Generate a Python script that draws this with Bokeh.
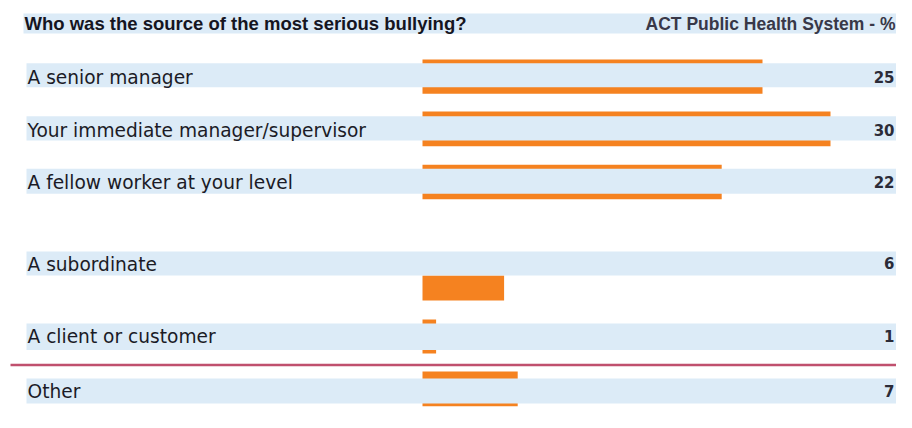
from bokeh.plotting import figure
from bokeh.models import Range1d
from bokeh.core.properties import value
from bokeh.embed import file_html
from bokeh.resources import INLINE

# ---- data ----
categories = ["A senior manager", "Your immediate manager/supervisor",
              "A fellow worker at your level", "A subordinate",
              "A client or customer", "Other"]
values = [25, 30, 22, 6, 1, 7]
value_labels = ["25", "30", "22", "6", "1", "7"]
title_left = "Who was the source of the most serious bullying?"
title_right = "ACT Public Health System - %"

# ---- layout (pixel geometry) ----
X0 = 422.0          # pixel of value 0
PPU = 13.6          # pixels per percentage point
W, H = 896, 412
TXT_SHIFT = -6.0    # baseline correction

def px(x):
    return (x - X0) / PPU

band_top = [62.7, 115.7, 168.3, 251, 323, 378]
band_bot = [86.7, 140.0, 193.3, 275, 349.5, 403]
bar_top = [59.0, 111.0, 164.3, 275, 319, 371]
bar_bot = [93.3, 145.7, 198.7, 300, 353, 405.7]
label_base = [83.3, 136.0, 188.3, 269.5, 342.0, 397.0]

ORANGE = "#f58220"
BAND = "#dcebf7"
TEXT = "#1b1b26"

p = figure(width=W, height=H, output_backend="svg", toolbar_location=None,
           x_range=Range1d(px(0), px(W)), y_range=Range1d(H, 0),
           x_axis_location=None, y_axis_location=None, min_border=0)
p.grid.visible = False
p.outline_line_color = None
p.background_fill_color = "white"

# bars (drawn first; the bands sit on top of them)
p.quad(left=[0] * len(values), right=values, top=bar_top, bottom=bar_bot,
       fill_color=ORANGE, line_color=None)

# bands
p.quad(left=[px(26)] * len(categories), right=[px(W)] * len(categories),
       top=band_top, bottom=band_bot, fill_color=BAND, line_color=None)
p.quad(left=[px(23)], right=[px(W)], top=[13], bottom=[33],
       fill_color=BAND, line_color=None)

# category labels
p.text(x=[px(27)] * len(categories), y=[b + TXT_SHIFT for b in label_base], text=categories,
       text_font=value("DejaVu Sans"), text_font_size="18.6px",
       text_baseline="alphabetic", text_align="left", text_color=TEXT)

# value labels
p.text(x=[px(W - 2)] * len(values), y=[b - 0.7 + TXT_SHIFT for b in label_base], text=value_labels,
       text_font=value("DejaVu Sans"), text_font_size="15px", text_font_style="bold",
       text_baseline="alphabetic", text_align="right", text_color="#2b2b38")

# titles
p.text(x=[px(24)], y=[29 + TXT_SHIFT], text=[title_left],
       text_font=value("Liberation Sans"), text_font_size="18.5px", text_font_style="bold",
       text_baseline="alphabetic", text_align="left", text_color="#15151f")
p.text(x=[px(W - 1)], y=[29 + TXT_SHIFT], text=[title_right],
       text_font=value("Liberation Sans"), text_font_size="17.5px", text_font_style="bold",
       text_baseline="alphabetic", text_align="right", text_color="#383848")

# separator line
p.segment(x0=[px(10)], x1=[px(W)], y0=[364.5], y1=[364.5],
          line_color="#c0506e", line_width=2.5)

open("out.html", "w").write(file_html(p, INLINE))
